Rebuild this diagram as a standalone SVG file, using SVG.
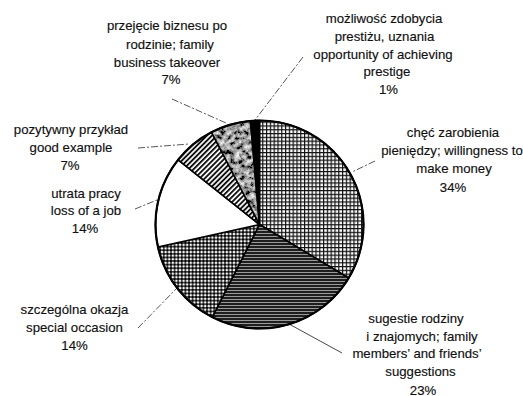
<svg xmlns="http://www.w3.org/2000/svg" width="523" height="396" viewBox="0 0 523 396">
<style>
  .lbl { font-family: "Liberation Sans", Arial, sans-serif; font-size: 13.2px; fill: #101010; text-anchor: middle; stroke: #101010; stroke-width: 0.15; }
  .slice { stroke: #000; stroke-width: 1.6; stroke-linejoin: round; }
  .lead { stroke: #444; stroke-width: 0.9; fill: none; stroke-dasharray: 7 2 2 2; }
  .lead-solid { stroke: #333; stroke-width: 0.9; fill: none; }
</style>
<defs>
  <pattern id="grid" width="3.8" height="3.8" patternUnits="userSpaceOnUse">
    <rect width="3.8" height="3.8" fill="#fff"/>
    <rect x="0" y="0" width="1.2" height="3.8" fill="#111"/>
    <rect x="0" y="0" width="3.8" height="1.2" fill="#111"/>
  </pattern>
  <pattern id="hlines" width="6" height="3" patternUnits="userSpaceOnUse">
    <rect width="6" height="3" fill="#9a9a9a"/>
    <rect x="0" y="0" width="6" height="2" fill="#1e1e1e"/>
  </pattern>
  <pattern id="dots" width="3.6" height="3.6" patternUnits="userSpaceOnUse">
    <rect width="3.6" height="3.6" fill="#fff"/>
    <circle cx="1.8" cy="1.8" r="1.4" fill="#000"/>
    <rect x="1.35" y="0" width="0.9" height="3.6" fill="#000"/>
    <rect x="0" y="1.35" width="3.6" height="0.9" fill="#000"/>
  </pattern>
  <pattern id="diag" width="3.6" height="3.6" patternUnits="userSpaceOnUse" patternTransform="rotate(-45)">
    <rect width="3.6" height="3.6" fill="#fff"/>
    <rect x="0" y="0" width="3.6" height="1.9" fill="#111"/>
  </pattern>
  <filter id="mottle" x="0" y="0" width="100%" height="100%">
    <feTurbulence type="fractalNoise" baseFrequency="0.2" numOctaves="4" seed="7" result="n"/>
    <feColorMatrix in="n" type="matrix" values="1.7 0 0 0 -0.5  1.7 0 0 0 -0.5  1.7 0 0 0 -0.5  0 0 0 0 1" result="g"/>
    <feComposite in="g" in2="SourceGraphic" operator="in"/>
  </filter>
</defs>
<rect width="523" height="396" fill="#fff"/>

<g id="connectors">
  <path class="lead" d="M172,99 L226,123"/>
  <path class="lead" d="M303,57 L255,120"/>
  <path class="lead" d="M375,161 L352,172"/>
  <path class="lead" d="M138,148 L189,144"/>
  <path class="lead" d="M135,209 L157,200"/>
  <path class="lead" d="M138,328 L177,288"/>
  <path class="lead-solid" d="M289,324 L342,353"/>
</g>

<g id="node-money">
  <path class="slice" fill="url(#grid)" d="M259.5,224.5 L259.5,120.5 A104,104 0 0 1 348.65,278.06 Z"/>
  <text class="lbl" x="453" y="137">chęć zarobienia</text>
  <text class="lbl" x="452" y="155">pieniędzy; willingness to</text>
  <text class="lbl" x="454" y="173">make money</text>
  <text class="lbl" x="453" y="191.5">34%</text>
</g>

<g id="node-suggestions">
  <path class="slice" fill="url(#hlines)" d="M259.5,224.5 L348.65,278.06 A104,104 0 0 1 212.28,317.16 Z"/>
  <text class="lbl" x="416" y="322.5">sugestie rodziny</text>
  <text class="lbl" x="422" y="341">i znajomych; family</text>
  <text class="lbl" x="417" y="358">members’ and friends’</text>
  <text class="lbl" x="420.5" y="376">suggestions</text>
  <text class="lbl" x="423" y="394.5">23%</text>
</g>

<g id="node-occasion">
  <path class="slice" fill="url(#dots)" d="M259.5,224.5 L212.28,317.16 A104,104 0 0 1 157.96,247.01 Z"/>
  <text class="lbl" x="74.5" y="314">szczególna okazja</text>
  <text class="lbl" x="74.5" y="332">special occasion</text>
  <text class="lbl" x="74.5" y="350">14%</text>
</g>

<g id="node-job">
  <path class="slice" fill="#fff" d="M259.5,224.5 L157.96,247.01 A104,104 0 0 1 178.11,159.76 Z"/>
  <text class="lbl" x="86" y="197.5">utrata pracy</text>
  <text class="lbl" x="86" y="215">loss of a job</text>
  <text class="lbl" x="85" y="233">14%</text>
</g>

<g id="node-example">
  <path class="slice" fill="url(#diag)" d="M259.5,224.5 L178.11,159.76 A104,104 0 0 1 211.48,132.25 Z"/>
  <text class="lbl" x="71" y="133.5">pozytywny przykład</text>
  <text class="lbl" x="71" y="151.5">good example</text>
  <text class="lbl" x="70" y="170">7%</text>
</g>

<g id="node-takeover">
  <path fill="#777" filter="url(#mottle)" d="M259.5,224.5 L211.48,132.25 A104,104 0 0 1 250.43,120.9 Z"/>
  <path class="slice" fill="none" d="M259.5,224.5 L211.48,132.25 A104,104 0 0 1 250.43,120.9 Z"/>
  <text class="lbl" x="167" y="30">przejęcie biznesu po</text>
  <text class="lbl" x="170" y="49">rodzinie; family</text>
  <text class="lbl" x="167" y="66.5">business takeover</text>
  <text class="lbl" x="171" y="84">7%</text>
</g>

<g id="node-prestige">
  <path class="slice" fill="#000" d="M259.5,224.5 L250.43,120.9 A104,104 0 0 1 259.5,120.5 Z"/>
  <text class="lbl" x="384" y="22.5">możliwość zdobycia</text>
  <text class="lbl" x="384.5" y="40.5">prestiżu, uznania</text>
  <text class="lbl" x="383" y="58.5">opportunity of achieving</text>
  <text class="lbl" x="387" y="76">prestige</text>
  <text class="lbl" x="388.5" y="94">1%</text>
</g>

<circle cx="259.5" cy="224.5" r="104" fill="none" stroke="#000" stroke-width="2.2"/>
</svg>
